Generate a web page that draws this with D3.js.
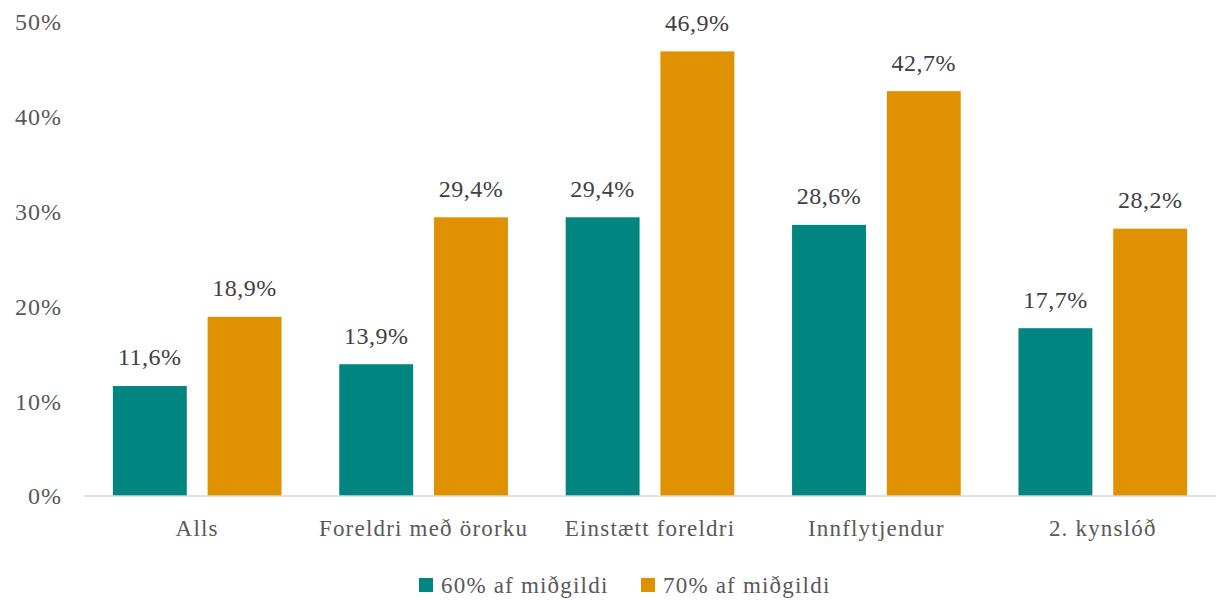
<!DOCTYPE html>
<html>
<head>
<meta charset="utf-8">
<script src="https://cdn.jsdelivr.net/npm/d3@7"></script>
<style>
  body { margin: 0; background: #fff; }
</style>
</head>
<body>
<svg id="chart" width="1220" height="600"></svg>
<script>
// categories and series
var categories = ["Alls", "Foreldri með örorku", "Einstætt foreldri", "Innflytjendur", "2. kynslóð"];
var seriesNames = ["60% af miðgildi", "70% af miðgildi"];
var values60 = [11.6, 13.9, 29.4, 28.6, 17.7];
var values70 = [18.9, 29.4, 46.9, 42.7, 28.2];
var yTicks = [0, 10, 20, 30, 40, 50];

var colors = ["#008580", "#DF9100"];
var FONT = "'Liberation Serif', 'DejaVu Serif', serif";

var svg = d3.select("#chart")
	.attr("font-family", FONT),
	margin = { top: 22, right: 4, bottom: 104, left: 84 },
	width = 1220 - margin.left - margin.right,
	height = 600 - margin.top - margin.bottom;

var g = svg.append("g")
	.attr("transform", "translate(" + margin.left + "," + margin.top + ")");

var x0 = d3.scaleBand()
	.domain(categories)
	.range([0, width])
	.paddingInner(0.255)
	.paddingOuter(0.1275);

var x1 = d3.scaleBand()
	.domain(seriesNames)
	.range([0, x0.bandwidth()])
	.paddingInner(0.22);

var y = d3.scaleLinear()
	.domain([0, 50])
	.range([height, 0]);

var fmt = function(v){ return d3.format(".1f")(v).replace(".", ",") + "%"; };

// y axis labels
g.selectAll(".ytick")
	.data(yTicks)
	.enter()
	.append("text")
	.attr("class", "ytick")
	.attr("x", -22)
	.attr("y", function(d){ return y(d); })
	.attr("dy", "0.35em")
	.attr("text-anchor", "end")
	.attr("font-family", FONT)
	.style("font-size", "24px")
	.style("letter-spacing", "1px")
	.style("fill", "#595959")
	.text(function(d){ return d + "%"; });

var rows = categories.map(function(c, i){
	return { cat: c, vals: [values60[i], values70[i]] };
});

var groups = g.selectAll(".grp")
	.data(rows)
	.enter()
	.append("g")
	.attr("class", "grp")
	.attr("transform", function(d){ return "translate(" + x0(d.cat) + ",0)"; });

var bars = groups.selectAll("g.bar")
	.data(function(d){
		return d.vals.map(function(v, j){ return { s: seriesNames[j], v: v, j: j }; });
	})
	.enter()
	.append("g")
	.attr("class", "bar");

bars.append("rect")
	.attr("x", function(d){ return x1(d.s); })
	.attr("y", function(d){ return y(d.v); })
	.attr("width", x1.bandwidth())
	.attr("height", function(d){ return height - y(d.v); })
	.style("fill", function(d){ return colors[d.j]; });

bars.append("text")
	.attr("x", function(d){ return x1(d.s) + x1.bandwidth() / 2; })
	.attr("y", function(d){ return y(d.v) - 29; })
	.attr("dy", "0.35em")
	.attr("text-anchor", "middle")
	.attr("font-family", FONT)
	.style("font-size", "24px")
	.style("letter-spacing", "0.5px")
	.style("fill", "#404040")
	.text(function(d){ return fmt(d.v); });

// baseline
g.append("line")
	.attr("x1", 0)
	.attr("x2", width)
	.attr("y1", height)
	.attr("y2", height)
	.style("stroke", "#d9d9d9")
	.style("stroke-width", 1.5);

// category labels
g.selectAll(".xlab")
	.data(categories)
	.enter()
	.append("text")
	.attr("class", "xlab")
	.attr("x", function(d){ return x0(d) + x0.bandwidth() / 2; })
	.attr("y", height + 32)
	.attr("dy", "0.35em")
	.attr("text-anchor", "middle")
	.attr("font-family", FONT)
	.style("font-size", "23px")
	.style("letter-spacing", "1.2px")
	.style("fill", "#595959")
	.text(function(d){ return d; });

// legend
var legendX = [419, 641];
var legend = svg.selectAll(".leg")
	.data(seriesNames)
	.enter()
	.append("g")
	.attr("class", "leg")
	.attr("transform", function(d, i){ return "translate(" + legendX[i] + ",578)"; });

legend.append("rect")
	.attr("width", 14)
	.attr("height", 14)
	.style("fill", function(d, i){ return colors[i]; });

legend.append("text")
	.attr("x", 22)
	.attr("y", 7)
	.attr("dy", "0.35em")
	.attr("font-family", FONT)
	.style("font-size", "23px")
	.style("letter-spacing", "1.2px")
	.style("fill", "#595959")
	.text(function(d){ return d; });
</script>
</body>
</html>
